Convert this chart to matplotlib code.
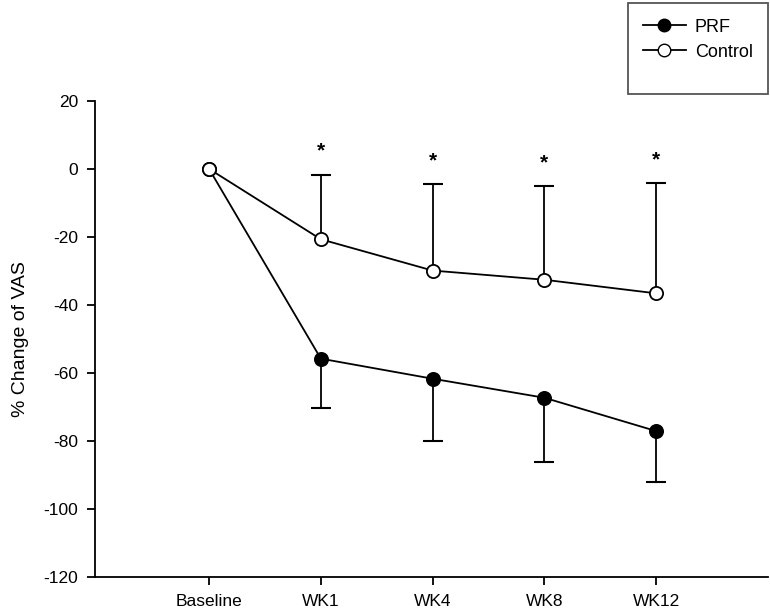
import numpy as np
import matplotlib.pyplot as plt
from matplotlib.patches import Rectangle
from matplotlib.lines import Line2D

plt.rcParams['font.family'] = ['Liberation Sans', 'DejaVu Sans']
plt.rcParams['axes.unicode_minus'] = False

# data
timepoints = ["Baseline", "WK1", "WK4", "WK8", "WK12"]
prf_mean = [0, -55.8, -61.7, -67.3, -77.1]
prf_lower = [0, -70.4, -80.0, -86.3, -92.1]
ctrl_mean = [0, -20.7, -29.9, -32.6, -36.6]
ctrl_upper = [0, -1.8, -4.4, -4.9, -4.2]
star_y = [5.2, 2.3, 1.8, 2.6]  # significance markers at WK1..WK12

x = np.arange(len(timepoints))

fig = plt.figure(figsize=(7.7, 6.12), dpi=100)
ax = fig.add_axes([0.1234, 0.0572, 0.874, 0.778])

# error bars: PRF downward, control upward (skip baseline)
ax.vlines(x[1:], prf_lower[1:], prf_mean[1:], color='black', lw=1.3, zorder=2)
ax.plot(x[1:], prf_lower[1:], ls='none', marker='_', ms=14, mew=1.5, color='black', zorder=2)
ax.vlines(x[1:], ctrl_mean[1:], ctrl_upper[1:], color='black', lw=1.3, zorder=2)
ax.plot(x[1:], ctrl_upper[1:], ls='none', marker='_', ms=14, mew=1.5, color='black', zorder=2)

ax.plot(x, prf_mean, color='black', lw=1.3, marker='o', ms=9.5,
        mfc='black', mec='black', mew=1.3, zorder=3)
ax.plot(x, ctrl_mean, color='black', lw=1.3, marker='o', ms=9.5,
        mfc='white', mec='black', mew=1.3, zorder=4)

for xi, yi in zip(x[1:], star_y):
    ax.text(xi, yi, '*', ha='center', va='center', fontsize=15,
            fontweight='bold', color='black')

ax.set_xlim(-1.02, 5.0)
ax.set_ylim(-120, 20)
ax.set_yticks(np.arange(-120, 21, 20))
ax.set_xticks(x)
ax.set_xticklabels(timepoints)
ax.tick_params(direction='out', length=6, width=1.3, labelsize=12.5)
ax.tick_params(axis='y', pad=6)
ax.tick_params(axis='x', pad=6)
for s in ['top', 'right']:
    ax.spines[s].set_visible(False)
for s in ['left', 'bottom']:
    ax.spines[s].set_linewidth(1.3)
ax.set_ylabel('% Change of VAS', fontsize=14)
ax.yaxis.set_label_coords(-0.098, 0.5)

# legend box
fig.patches.append(Rectangle((628 / 770, 1 - 94 / 612), 140 / 770, 91 / 612,
                             transform=fig.transFigure, fill=False,
                             edgecolor='#555555', lw=1.3))
handles = [
    Line2D([], [], color='black', lw=1.3, marker='o', ms=9, mfc='black', mec='black'),
    Line2D([], [], color='black', lw=1.3, marker='o', ms=9, mfc='white', mec='black'),
]
fig.legend(handles, ['PRF', 'Control'], loc='upper left',
           bbox_to_anchor=(630 / 770, 1 - 6 / 612), frameon=False,
           fontsize=13, handlelength=2.4, handletextpad=0.5,
           labelspacing=0.45, borderpad=0.2)

fig.savefig('out.png', dpi=100)
